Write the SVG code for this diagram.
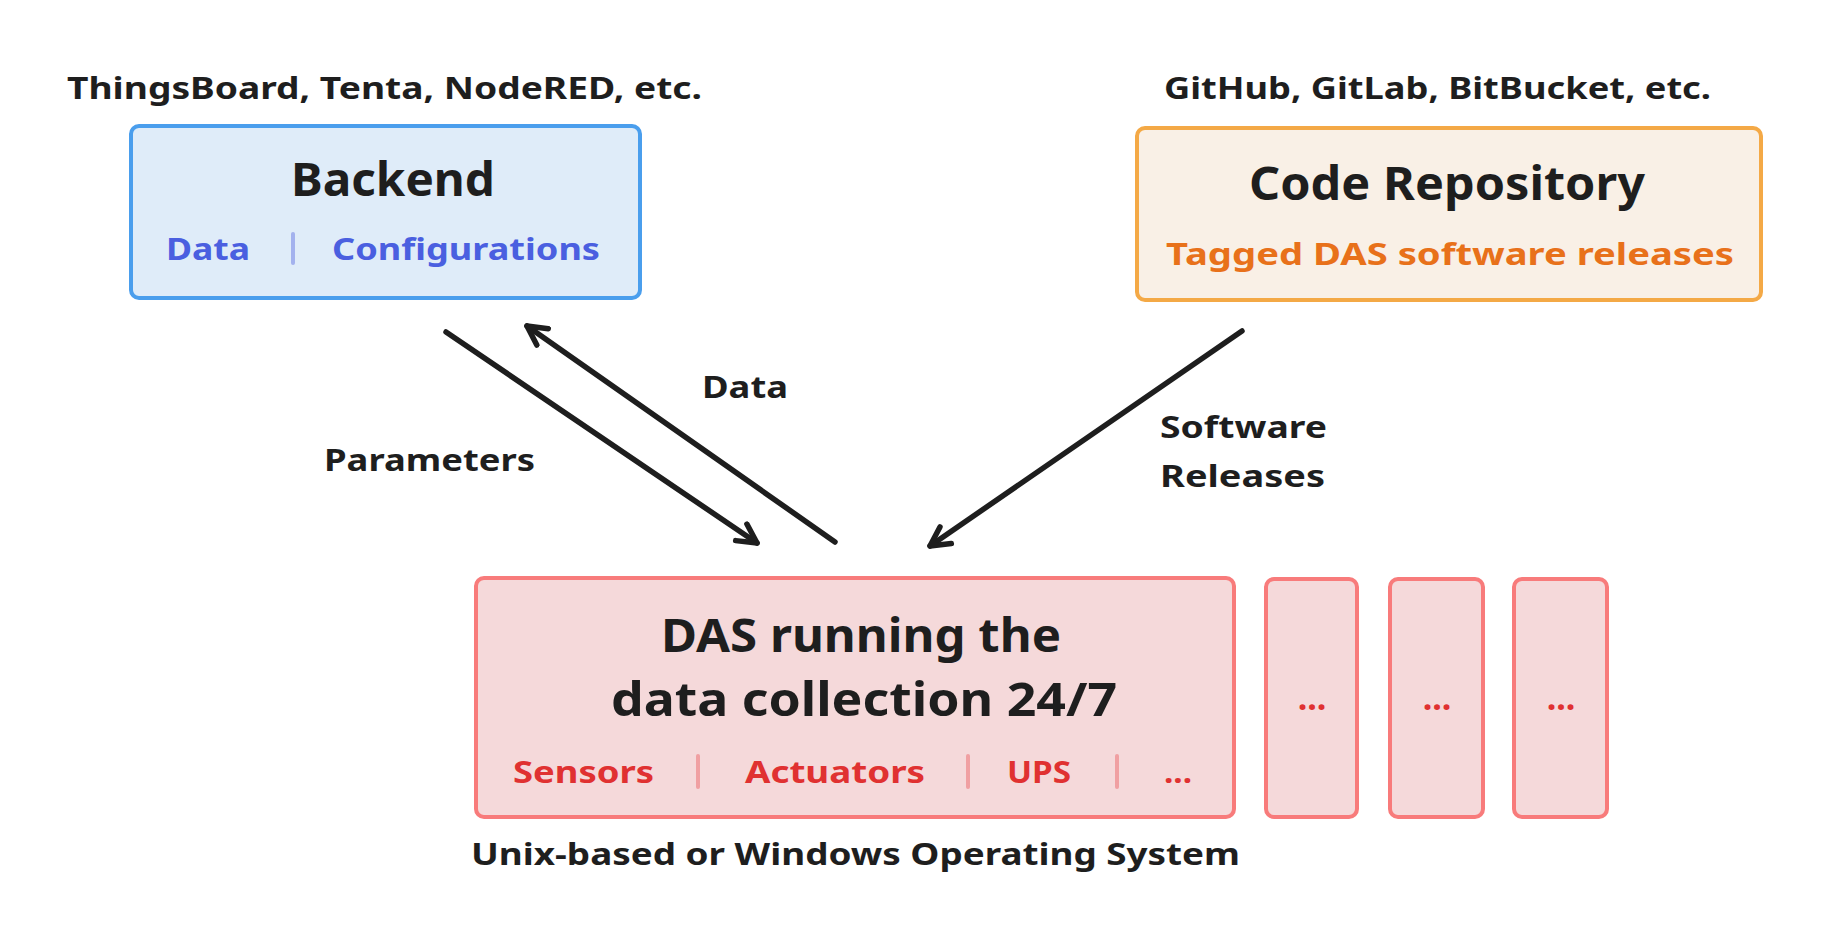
<svg xmlns="http://www.w3.org/2000/svg" width="1825" height="942" viewBox="0 0 1825 942">
<style>
text{font-family:"Noto Sans","Open Sans","DejaVu Sans",sans-serif;font-weight:700;dominant-baseline:central}
.lbl{font-size:31px;fill:#1e1e1e}
.title{font-size:46px;fill:#1e1e1e;text-anchor:middle}
.blue{font-size:31px;fill:#4a5fe0}
.orange{font-size:31px;fill:#e8711a}
.red{font-size:31px;fill:#e03131}
.dots{font-size:34px;fill:#e03131;text-anchor:middle}
.bbox{fill:#dfecf9;stroke:#4a9eed;stroke-width:4}
.obox{fill:#f9f0e6;stroke:#f4a946;stroke-width:4}
.rbox{fill:#f5d9da;stroke:#f87b7b;stroke-width:4}
.sepb{stroke:#a3b2ee;stroke-width:4;stroke-linecap:round}
.sepr{stroke:#f0a0a2;stroke-width:4;stroke-linecap:round}
.conn{stroke:#1e1e1e;stroke-width:5.5;stroke-linecap:round;fill:none;marker-end:url(#arr)}
</style>
<defs>
<marker id="arr" viewBox="0 0 26 26" refX="22" refY="13" markerWidth="26" markerHeight="26" markerUnits="userSpaceOnUse" orient="auto">
<path d="M3,3 L22,13 L3,23" fill="none" stroke="#1e1e1e" stroke-width="5.5" stroke-linecap="round" stroke-linejoin="round"/>
</marker>
</defs>
<rect width="1825" height="942" fill="#ffffff"/>

<g id="backend">
<text class="lbl" x="67" y="87" textLength="635" lengthAdjust="spacingAndGlyphs">ThingsBoard, Tenta, NodeRED, etc.</text>
<rect class="bbox" x="131" y="126" width="509" height="172" rx="8"/>
<text class="title" x="393" y="178" textLength="204" lengthAdjust="spacingAndGlyphs">Backend</text>
<text class="blue" x="166" y="248" textLength="84" lengthAdjust="spacingAndGlyphs">Data</text>
<line class="sepb" x1="293" y1="234" x2="293" y2="263"/>
<text class="blue" x="332" y="248" textLength="268" lengthAdjust="spacingAndGlyphs">Configurations</text>
</g>

<g id="repo">
<text class="lbl" x="1164" y="87" textLength="547" lengthAdjust="spacingAndGlyphs">GitHub, GitLab, BitBucket, etc.</text>
<rect class="obox" x="1137" y="128" width="624" height="172" rx="8"/>
<text class="title" x="1447" y="182" textLength="396" lengthAdjust="spacingAndGlyphs">Code Repository</text>
<text class="orange" x="1166" y="253" textLength="568" lengthAdjust="spacingAndGlyphs">Tagged DAS software releases</text>
</g>

<g id="das">
<rect class="rbox" x="476" y="578" width="758" height="239" rx="8"/>
<text class="title" x="861" y="634" textLength="400" lengthAdjust="spacingAndGlyphs">DAS running the</text>
<text class="title" x="864" y="698" textLength="506" lengthAdjust="spacingAndGlyphs">data collection 24/7</text>
<text class="red" x="513" y="771" textLength="141" lengthAdjust="spacingAndGlyphs">Sensors</text>
<line class="sepr" x1="698" y1="756" x2="698" y2="787"/>
<text class="red" x="745" y="771" textLength="180" lengthAdjust="spacingAndGlyphs">Actuators</text>
<line class="sepr" x1="968" y1="756" x2="968" y2="787"/>
<text class="red" x="1007" y="771" textLength="64" lengthAdjust="spacingAndGlyphs">UPS</text>
<line class="sepr" x1="1117" y1="756" x2="1117" y2="787"/>
<text class="red" x="1164" y="771" textLength="28" lengthAdjust="spacingAndGlyphs">...</text>
<text class="lbl" x="471" y="853" textLength="769" lengthAdjust="spacingAndGlyphs">Unix-based or Windows Operating System</text>
</g>

<g id="das2">
<rect class="rbox" x="1266" y="579" width="91" height="238" rx="8"/>
<text class="dots" x="1312" y="697">...</text>
</g>
<g id="das3">
<rect class="rbox" x="1390" y="579" width="93" height="238" rx="8"/>
<text class="dots" x="1437" y="697">...</text>
</g>
<g id="das4">
<rect class="rbox" x="1514" y="579" width="93" height="238" rx="8"/>
<text class="dots" x="1561" y="697">...</text>
</g>

<g id="connectors">
<line class="conn" x1="446" y1="332" x2="757" y2="543"/>
<line class="conn" x1="835" y1="542" x2="527" y2="326"/>
<line class="conn" x1="1242" y1="331" x2="930" y2="546"/>
<text class="lbl" x="702" y="386" textLength="86" lengthAdjust="spacingAndGlyphs">Data</text>
<text class="lbl" x="324" y="459" textLength="211" lengthAdjust="spacingAndGlyphs">Parameters</text>
<text class="lbl" x="1160" y="426" textLength="167" lengthAdjust="spacingAndGlyphs">Software</text>
<text class="lbl" x="1160" y="475" textLength="165" lengthAdjust="spacingAndGlyphs">Releases</text>
</g>
</svg>
